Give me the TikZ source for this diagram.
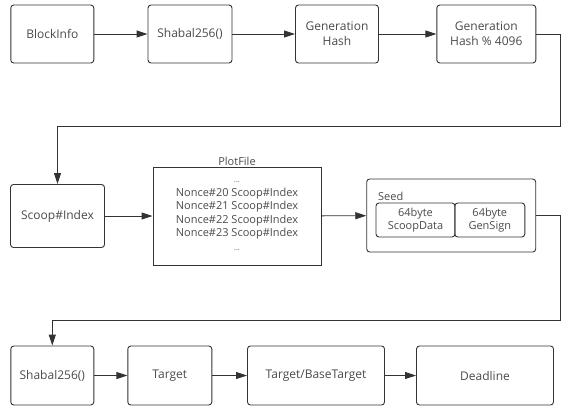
\documentclass[tikz,border=0pt]{standalone}
\usepackage{fontspec}
\setmainfont{Open Sans}
\usetikzlibrary{arrows.meta}
\definecolor{linegray}{HTML}{333333}
\definecolor{textgray}{HTML}{4A4A4A}
\begin{document}
\begin{tikzpicture}[x=1pt, y=-1pt,
    box/.style={draw=linegray, line width=0.9pt, rounded corners=3pt, inner sep=0pt,
        align=center, text=textgray, font=\fontsize{12}{15}\selectfont},
    arrow/.style={draw=linegray, line width=0.9pt, -{Triangle[length=11pt, width=7pt]}}]
        \useasboundingbox (0, 0) rectangle (569, 412);
        \node[box, minimum width=83pt, minimum height=58pt] (A) at (52.3, 34) {BlockInfo};
        \node[box, minimum width=84pt, minimum height=58pt] (B) at (190, 34) {Shabal256()};
        \node[box, minimum width=83pt, minimum height=58pt] (C) at (337, 34) {Generation\\Hash};
        \node[box, minimum width=99pt, minimum height=58pt] (D) at (486.3, 34) {Generation\\Hash \% 4096};
        \node[box, minimum width=94pt, minimum height=63pt] (E) at (57.5, 216) {Scoop\#Index};
        \node[box, rounded corners=0pt, minimum width=168pt, minimum height=98pt,
            font=\fontsize{11}{13.5}\selectfont] (F) at (237, 216)
            {{\fontsize{7}{8}\selectfont ...}\\Nonce\#20 Scoop\#Index\\Nonce\#21 Scoop\#Index\\Nonce\#22 Scoop\#Index\\Nonce\#23 Scoop\#Index\\{\fontsize{7}{8}\selectfont ...}};
        \node[text=textgray, font=\fontsize{11}{13}\selectfont, inner sep=1pt, anchor=south] (P) at (F.north) {PlotFile};
        \node[box, minimum width=169pt, minimum height=73pt] (G) at (451.2, 215.5) {};
        \node[text=textgray, font=\fontsize{11}{13}\selectfont, inner sep=0pt, anchor=west] (S) at (378, 196) {Seed};
        \node[box, minimum width=79pt, minimum height=34pt, font=\fontsize{11}{13.5}\selectfont] (H) at (415.5, 220) {64byte\\ScoopData};
        \node[box, minimum width=70pt, minimum height=34pt, font=\fontsize{11}{13.5}\selectfont] (I) at (489.8, 220) {64byte\\GenSign};
        \node[box, minimum width=83pt, minimum height=59pt] (J) at (52.3, 375.5) {Shabal256()};
        \node[box, minimum width=84pt, minimum height=59pt] (K) at (169.8, 375.5) {Target};
        \node[box, minimum width=137pt, minimum height=59pt] (L) at (316, 375.5) {Target/BaseTarget};
        \node[box, minimum width=137pt, minimum height=59pt] (M) at (485, 375.5) {Deadline};
        \coordinate (c1) at (560.7, 126.5);
        \coordinate (c2) at (560.7, 320);
        \draw[arrow] (A) -- (B);
        \draw[arrow] (B) -- (C);
        \draw[arrow] (C) -- (D);
        \draw[arrow] (D.east) -| (c1) -| (E.north);
        \draw[arrow] (E) -- (F);
        \draw[arrow] (F) -- (G);
        \draw[arrow] (G.east) -| (c2) -| (J.north);
        \draw[arrow] (J) -- (K);
        \draw[arrow] (K) -- (L);
        \draw[arrow] (L) -- (M);
    \end{tikzpicture}
\end{document}
